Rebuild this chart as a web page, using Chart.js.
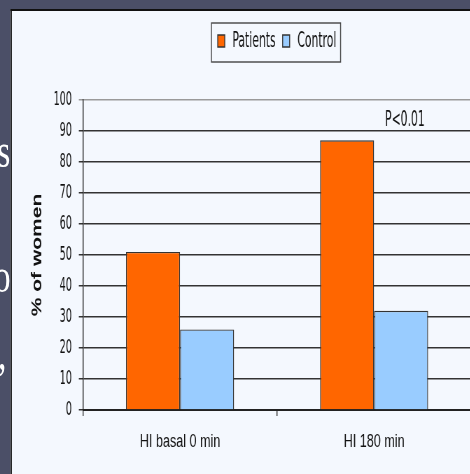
<!DOCTYPE html>
<html>
<head>
<meta charset="utf-8">
<script src="https://cdn.jsdelivr.net/npm/chart.js@4.4.1/dist/chart.umd.min.js"></script>
<style>
    html, body { margin: 0; padding: 0; overflow: hidden; background: #4b4f67; width: 470px; height: 474px; }
    /* whole slide is drawn wider, then squeezed like the reference */
    #wrap { position: absolute; left: 0; top: 0; width: 690px; height: 474px; transform: scaleX(0.7); transform-origin: 0 0; }
    #panel { position: absolute; left: 15px; top: 9px; width: 700px; height: 480px; background: #f4f8fe; border-left: 2px solid #111; border-top: 2px solid #111; }
    .slide { position: absolute; color: #fff; font-family: "Liberation Serif", serif; font-size: 48px; line-height: 1; }
    canvas { position: absolute; left: 0; top: 0; }
</style>
</head>
<body>
<div id="wrap">
    <div class="slide" style="left:-4px; top:127px;">s</div>
    <div class="slide" style="left:-9px; top:252px;">o</div>
    <div class="slide" style="left:-3px; top:329px;">,</div>
    <div id="panel"></div>
    <canvas id="barChart" width="690" height="474"></canvas>
</div>
<script>
const categories = ["HI basal 0 min", "HI 180 min"];
const patients = [51, 87];
const control = [26, 32];
const yMin = 0, yMax = 100, yStep = 10;
const pLabel = "P<0.01";

const narrow = '"DejaVu Sans Condensed", sans-serif';
const plain = '"Liberation Sans", Arial, sans-serif';

// the narrow font is still too wide, squeeze it a bit more
const squeeze = 0.78;
const canvas = document.getElementById("barChart");
const c2d = canvas.getContext("2d");
const fillOrig = c2d.fillText.bind(c2d);
const measureOrig = c2d.measureText.bind(c2d);
c2d.fillText = function (text, x, y, maxWidth) {
    if (this.font.indexOf("Condensed") < 0) {
        if (maxWidth === undefined) fillOrig(text, x, y); else fillOrig(text, x, y, maxWidth);
        return;
    }
    this.save();
    this.translate(x, y);
    this.scale(squeeze, 1);
    fillOrig(text, 0, 0);
    this.restore();
};
c2d.measureText = function (text) {
    const m = measureOrig(text);
    if (this.font.indexOf("Condensed") < 0) return m;
    return {
        width: m.width * squeeze,
        actualBoundingBoxAscent: m.actualBoundingBoxAscent,
        actualBoundingBoxDescent: m.actualBoundingBoxDescent,
        actualBoundingBoxLeft: m.actualBoundingBoxLeft * squeeze,
        actualBoundingBoxRight: m.actualBoundingBoxRight * squeeze
    };
};

// room under the legend before the plot starts
const legendGap = {
    id: "legendGap",
    beforeInit(chart) {
        const fit = chart.legend.fit;
        chart.legend.fit = function () {
            fit.bind(chart.legend)();
            this.height += 38;
        };
    }
};

// frame around the legend and the p value text
const extras = {
    id: "extras",
    afterDraw(chart) {
        const ctx = chart.ctx;
        const boxes = chart.legend.legendHitBoxes;
        const l = Math.min(...boxes.map(b => b.left)) - 9;
        const r = Math.max(...boxes.map(b => b.left + b.width)) + 6;
        const top = chart.legend.top + 3;
        ctx.save();
        ctx.strokeStyle = "#444";
        ctx.lineWidth = 1.4;
        ctx.strokeRect(l, top, r - l, 39);

        const x = chart.scales.x.getPixelForValue(1) + 44;
        const y = chart.scales.y.getPixelForValue(93.5);
        ctx.fillStyle = "#111";
        ctx.font = "22px " + narrow;
        ctx.textAlign = "center";
        ctx.textBaseline = "middle";
        ctx.fillText(pLabel, x, y);
        ctx.restore();
    }
};

new Chart(canvas, {
    type: "bar",
    data: {
        labels: categories,
        datasets: [
            { label: "Patients", data: patients, backgroundColor: "#ff6600", borderColor: "#333", borderWidth: 1.4 },
            { label: "Control", data: control, backgroundColor: "#99ccff", borderColor: "#333", borderWidth: 1.4 }
        ]
    },
    options: {
        responsive: false,
        animation: false,
        devicePixelRatio: 1,
        datasets: { bar: { categoryPercentage: 0.557, barPercentage: 1 } },
        layout: { padding: { left: 41, top: 20, right: 17, bottom: 0 } },
        plugins: {
            tooltip: { enabled: false },
            legend: {
                fullSize: false,
                labels: {
                    font: { family: narrow, size: 22 },
                    color: "#111",
                    boxWidth: 10,
                    boxHeight: 12,
                    padding: 10
                }
            }
        },
        scales: {
            x: {
                afterFit: s => { s.height = 64; },
                grid: { drawOnChartArea: false, drawTicks: true, tickLength: 6, color: "#333", lineWidth: 1.4 },
                border: { color: "#222", width: 2 },
                ticks: { font: { family: plain, size: 18 }, color: "#111", padding: 15 }
            },
            y: {
                min: yMin,
                max: yMax,
                afterFit: s => { s.width = 77.6; },
                ticks: { stepSize: yStep, font: { family: narrow, size: 19.5 }, color: "#111", padding: 10 },
                grid: {
                    tickLength: 6,
                    lineWidth: 1.5,
                    color: c => (c.tick && c.tick.value === yMax ? "#9a9a9a" : "#333")
                },
                border: { color: "#222", width: 1.4 },
                title: {
                    display: true,
                    text: "% of women",
                    font: { family: plain, size: 21, weight: "bold" },
                    color: "#111",
                    padding: 0
                }
            }
        }
    },
    plugins: [legendGap, extras]
});
</script>
</body>
</html>
